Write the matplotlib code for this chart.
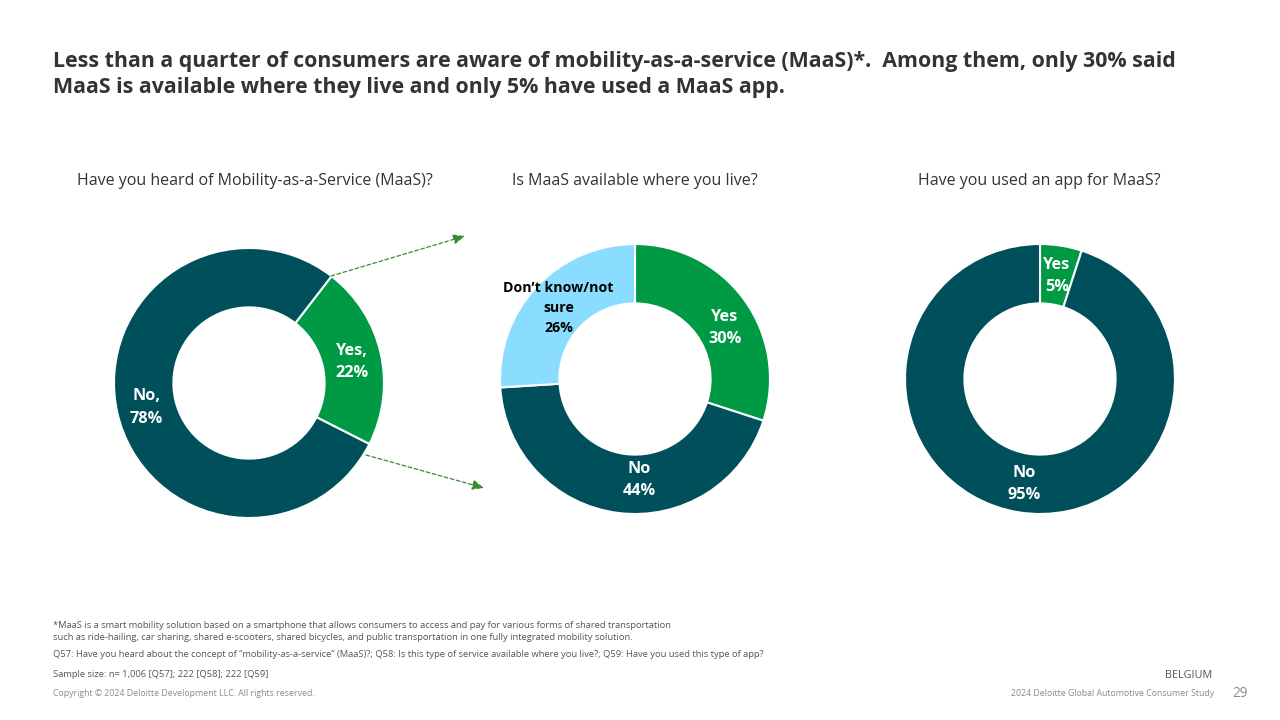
import matplotlib
matplotlib.use("Agg")
import matplotlib.pyplot as plt

plt.rcParams['font.family'] = ['Open Sans', 'DejaVu Sans']

# data
heard_labels = ["Yes", "No"]
heard_values = [22, 78]
avail_labels = ["Yes", "No", "Don't know/not sure"]
avail_values = [30, 44, 26]
app_labels = ["Yes", "No"]
app_values = [5, 95]

GREEN = "#009A44"
TEAL = "#00505C"
BLUE = "#8BDDFF"
DARK = "#333333"
GREY = "#555555"
LIGHT = "#8a8a8a"

title_lines = ["Less than a quarter of consumers are aware of mobility-as-a-service (MaaS)*.  Among them, only 30% said",
               "MaaS is available where they live and only 5% have used a MaaS app."]
questions = ["Have you heard of Mobility-as-a-Service (MaaS)?", "Is MaaS available where you live?", "Have you used an app for MaaS?"]
foot_lines = ["*MaaS is a smart mobility solution based on a smartphone that allows consumers to access and pay for various forms of shared transportation",
              "such as ride-hailing, car sharing, shared e-scooters, shared bicycles, and public transportation in one fully integrated mobility solution.",
              "Q57: Have you heard about the concept of \u201cmobility-as-a-service\u201d (MaaS)?; Q58: Is this type of service available where you live?; Q59: Have you used this type of app?",
              "Sample size: n= 1,006 [Q57]; 222 [Q58]; 222 [Q59]"]

fig = plt.figure(figsize=(12.8, 7.2), dpi=100, facecolor="white")


def donut(cx, cy, values, colors, start):
    r = 135
    ax = fig.add_axes([(cx - r) / 1280, 1 - (cy + r) / 720, 2 * r / 1280, 2 * r / 720])
    ax.pie(values, colors=colors, startangle=start, counterclock=False, radius=1,
           wedgeprops=dict(width=0.44, edgecolor="white", linewidth=1.5))
    ax.set_xlim(-1, 1)
    ax.set_ylim(-1, 1)
    ax.axis("off")


donut(249, 383, heard_values, [GREEN, TEAL], 52.3)
donut(635, 379, avail_values, [GREEN, TEAL, BLUE], 90)
donut(1040, 379, app_values, [GREEN, TEAL], 90)

# overlay in pixel coords for text and arrows
ov = fig.add_axes([0, 0, 1, 1])
ov.set_xlim(0, 1280)
ov.set_ylim(720, 0)
ov.axis("off")
ov.patch.set_alpha(0)

ov.text(53, 61.5, title_lines[0], fontsize=15.36, fontweight="bold", color=DARK, va="center")
ov.text(53, 87.5, title_lines[1], fontsize=15.36, fontweight="bold", color=DARK, va="center")

for x, q in zip([254.5, 635, 1039], questions):
    ov.text(x, 181, q, fontsize=11.55, color=DARK, ha="center", va="center")


def lab(x, y, s, color="white", size=11.7, spacing=1.55):
    ov.text(x, y, s, fontsize=size, fontweight="bold", color=color, ha="center", va="center", linespacing=spacing)


lab(352, 362, f"{heard_labels[0]},\n{heard_values[0]}%")
lab(146.5, 407.5, f"{heard_labels[1]},\n{heard_values[1]}%")
lab(725, 328, f"{avail_labels[0]}\n{avail_values[0]}%")
lab(639.5, 480, f"{avail_labels[1]}\n{avail_values[1]}%")
lab(558.5, 308, "Don\u2019t know/not\nsure\n" + f"{avail_values[2]}%", color="black", size=10.2, spacing=1.5)
lab(1057, 276, f"{app_labels[0]}\n{app_values[0]}%")
lab(1024.5, 484, f"{app_labels[1]}\n{app_values[1]}%")

# dashed arrows from the Yes slice
for start, end in [((331, 276), (465, 236)), ((366, 455), (484, 488))]:
    ov.annotate("", xy=end, xytext=start,
                arrowprops=dict(arrowstyle="-|>,head_length=0.7,head_width=0.3", color="#3A8A34",
                                linestyle=(0, (3, 2)), linewidth=0.9, shrinkA=0, shrinkB=0))

for y, s, size in zip([626, 637, 654.5, 674.5], foot_lines, [6.78, 6.78, 6.78, 6.72]):
    ov.text(53, y, s, fontsize=size, color=GREY, va="center")

ov.text(53, 693.5, "Copyright \u00a9 2024 Deloitte Development LLC. All rights reserved.", fontsize=6.3, color=LIGHT, va="center")
ov.text(1212, 675, "BELGIUM", fontsize=7.8, color=GREY, ha="right", va="center")
ov.text(1214, 694, "2024 Deloitte Global Automotive Consumer Study", fontsize=6.3, color=LIGHT, ha="right", va="center")
ov.text(1248, 693.5, "29", fontsize=9.8, color=LIGHT, ha="right", va="center")

fig.savefig("out.png", dpi=100)
plt.close()
